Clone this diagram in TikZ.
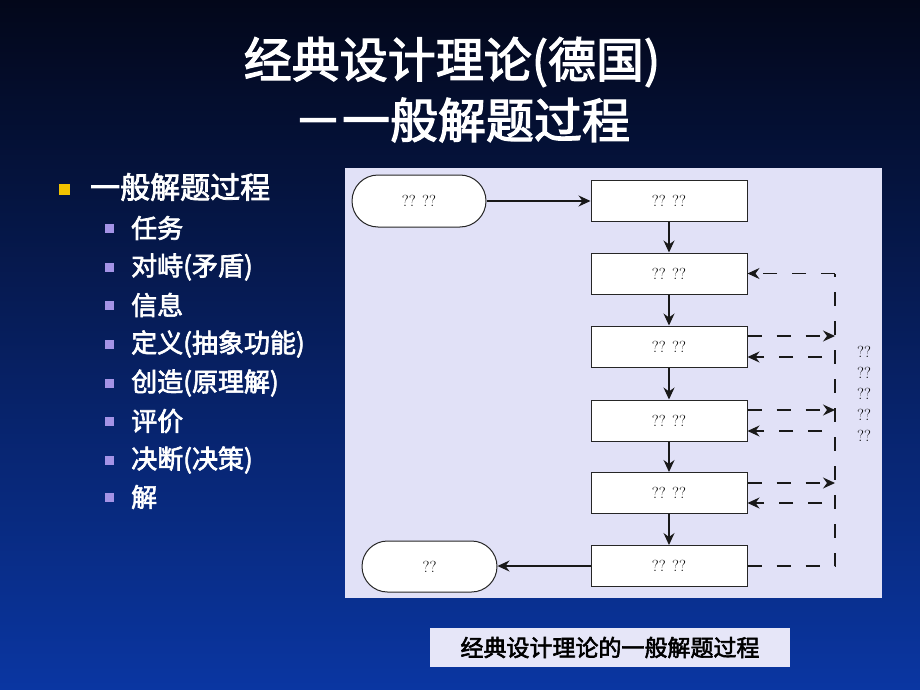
\documentclass[tikz,border=0pt]{standalone}
\usepackage{fontspec}
\newfontfamily\cjk[FakeBold=2.5]{Noto Sans CJK SC}
\usetikzlibrary{arrows.meta,shapes.misc}
\definecolor{bgtop}{HTML}{03071A}
\definecolor{bgmid}{HTML}{0A1E6E}
\definecolor{bgbot}{HTML}{0A36A2}
\definecolor{panelc}{HTML}{E1E1F7}
\definecolor{capc}{HTML}{E6E6F8}
\definecolor{yel}{HTML}{F2C200}
\definecolor{purp}{HTML}{A493E6}
\begin{document}
\begin{tikzpicture}[x=1pt,y=-1pt,
  box/.style={draw=black!85, fill=white, line width=1pt, minimum width=156pt, minimum height=41pt, inner sep=0pt, font=\fontsize{16}{16}\selectfont},
  term/.style={draw=black!85, fill=white, rounded rectangle, line width=1pt, minimum width=134pt, minimum height=52pt, inner sep=0pt, font=\fontsize{16}{16}\selectfont},
  arr/.style={-{Stealth[length=12pt,width=11pt,inset=4pt]}, line width=1.1pt, draw=black!90},
  darr/.style={arr, dash pattern=on 14pt off 15pt},
  dline/.style={line width=1.1pt, draw=black!90, dash pattern=on 14pt off 15pt},
  ttl/.style={text=white, font=\cjk\fontsize{48}{48}\selectfont, inner sep=0pt},
  item/.style={text=white, anchor=west, inner sep=0pt, font=\cjk\fontsize{26}{26}\selectfont},
  topitem/.style={text=white, anchor=west, inner sep=0pt, font=\cjk\fontsize{30}{30}\selectfont},
  bul/.style={fill=purp, minimum size=9pt, inner sep=0pt},
  ybul/.style={fill=yel, minimum size=11pt, inner sep=0pt},
  lbl/.style={align=center, inner sep=0pt, font=\fontsize{16}{21}\selectfont},
  capbox/.style={fill=capc, minimum width=360pt, minimum height=39pt, inner sep=0pt, font=\cjk\fontsize{23}{23}\selectfont}
]
\useasboundingbox (0,0) rectangle (920,690);
\shade[top color=bgtop, middle color=bgmid, bottom color=bgbot] (0,0) rectangle (920,690);

% title
\node[ttl] (t1) at (452,62) {经典设计理论(德国)};
\node[ttl] (t2) at (462,120) {－一般解题过程};

% bullet list
\node[ybul] (yb) at (64,189) {};
\node[topitem] (it0) at (90,187) {一般解题过程};
\foreach \i/\y/\t in {1/228/任务, 2/267/对峙(矛盾), 3/305/信息, 4/344/定义(抽象功能), 5/383/创造(原理解), 6/421/评价, 7/460/决断(决策), 8/497/解}{
  \node[bul] (b\i) at (109,\y) {};
  \node[item] (it\i) at (131,\y) {\t};
}

% panel
\fill[panelc] (345,168) rectangle (882,598);

% flow
\node[term] (start) at (419,201) {?? ??};
\node[box] (s1) at (669,200.5) {?? ??};
\node[box] (s2) at (669,273.5) {?? ??};
\node[box] (s3) at (669,346.5) {?? ??};
\node[box] (s4) at (669,420.5) {?? ??};
\node[box] (s5) at (669,493) {?? ??};
\node[box] (s6) at (669,566) {?? ??};
\node[term, minimum width=135pt, minimum height=51pt] (fin) at (429.5,566.5) {??};

\draw[arr] (start.east) -- (start.east -| s1.west);
\draw[arr] (s1) -- (s2);
\draw[arr] (s2) -- (s3);
\draw[arr] (s3) -- (s4);
\draw[arr] (s4) -- (s5);
\draw[arr] (s5) -- (s6);
\draw[arr] (s6.west) -- (s6.west -| fin.east);

% feedback
\coordinate (vt) at (835,273.5);
\coordinate (vb) at (835,566);
\draw[dline] (s6.east) -- (vb) -- (vt);
\draw[darr] (vt) -- (s2.east);
\coordinate (o3) at (835,336);  \coordinate (i3) at (822,357);
\coordinate (o4) at (835,410);  \coordinate (i4) at (822,431);
\coordinate (o5) at (835,483);  \coordinate (i5) at (822,503);
\foreach \k in {3,4,5}{
  \draw[darr] (s\k.east |- o\k) -- (o\k);
  \draw[darr] (i\k) -- (s\k.east |- i\k);
}
\node[lbl] (side) at (864,394) {??\\??\\??\\??\\??};

% caption
\node[capbox] (cap) at (610,647.5) {经典设计理论的一般解题过程};
\end{tikzpicture}
\end{document}
